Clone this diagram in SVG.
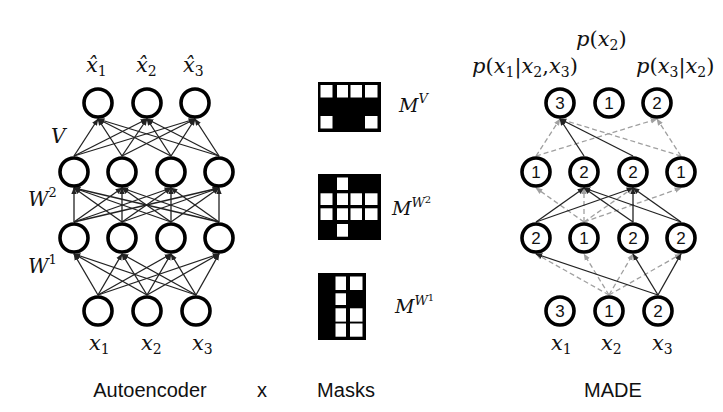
<svg xmlns="http://www.w3.org/2000/svg" width="723" height="412" viewBox="0 0 723 412">
<style>
.bg{fill:#ffffff}
.node circle{fill:#ffffff;stroke:#000000;stroke-width:3.6}
.num{font-family:"Liberation Sans",Arial,sans-serif;font-size:17px;fill:#111;text-anchor:middle}
.m{font-family:"DejaVu Serif","Liberation Serif",serif;font-size:19px;fill:#111}
.p{font-size:21px}
.i{font-style:italic}
.sub{font-size:13px}
.p .sub{font-size:14px}
.cap{font-family:"Liberation Sans",Arial,sans-serif;font-size:20px;fill:#111;text-anchor:middle}
.s{stroke:#222;stroke-width:1.3;fill:none;marker-end:url(#ah)}
.d{stroke:#a0a0a0;stroke-width:1.3;fill:none;stroke-dasharray:5 3;marker-end:url(#ahg)}
.blk{fill:#000}
.wht{fill:#fff}
</style>
<defs>
<marker id="ah" viewBox="0 0 10 10" refX="9" refY="5" markerWidth="7" markerHeight="7" markerUnits="userSpaceOnUse" orient="auto"><path d="M0,1 L10,5 L0,9 z" fill="#222"/></marker>
<marker id="ahg" viewBox="0 0 10 10" refX="9" refY="5" markerWidth="7" markerHeight="7" markerUnits="userSpaceOnUse" orient="auto"><path d="M0,1 L10,5 L0,9 z" fill="#a0a0a0"/></marker>
</defs>
<rect class="bg" x="0" y="0" width="723" height="412"/>

<!-- Autoencoder connectors -->
<g id="ae-connectors">
<path class="s" d="M98,295 L74,254"/><path class="s" d="M98,295 L122,254"/><path class="s" d="M98,295 L171,254"/><path class="s" d="M98,295 L219,254"/>
<path class="s" d="M147,295 L74,254"/><path class="s" d="M147,295 L122,254"/><path class="s" d="M147,295 L171,254"/><path class="s" d="M147,295 L219,254"/>
<path class="s" d="M196,295 L74,254"/><path class="s" d="M196,295 L122,254"/><path class="s" d="M196,295 L171,254"/><path class="s" d="M196,295 L219,254"/>
<path class="s" d="M74,222 L74,188"/><path class="s" d="M74,222 L122,188"/><path class="s" d="M74,222 L171,188"/><path class="s" d="M74,222 L219,188"/>
<path class="s" d="M122,222 L74,188"/><path class="s" d="M122,222 L122,188"/><path class="s" d="M122,222 L171,188"/><path class="s" d="M122,222 L219,188"/>
<path class="s" d="M171,222 L74,188"/><path class="s" d="M171,222 L122,188"/><path class="s" d="M171,222 L171,188"/><path class="s" d="M171,222 L219,188"/>
<path class="s" d="M219,222 L74,188"/><path class="s" d="M219,222 L122,188"/><path class="s" d="M219,222 L171,188"/><path class="s" d="M219,222 L219,188"/>
<path class="s" d="M74,156 L98,119"/><path class="s" d="M74,156 L147,119"/><path class="s" d="M74,156 L195,119"/>
<path class="s" d="M122,156 L98,119"/><path class="s" d="M122,156 L147,119"/><path class="s" d="M122,156 L195,119"/>
<path class="s" d="M171,156 L98,119"/><path class="s" d="M171,156 L147,119"/><path class="s" d="M171,156 L195,119"/>
<path class="s" d="M219,156 L98,119"/><path class="s" d="M219,156 L147,119"/><path class="s" d="M219,156 L195,119"/>
</g>

<!-- MADE connectors -->
<g id="made-connectors">
<path class="d" d="M609,295 L536,254"/><path class="d" d="M609,295 L584,254"/><path class="d" d="M609,295 L633,254"/><path class="d" d="M609,295 L681,254"/>
<path class="s" d="M658,295 L536,254"/><path class="s" d="M658,295 L633,254"/><path class="s" d="M658,295 L681,254"/>
<path class="d" d="M584,222 L536,188"/><path class="d" d="M584,222 L584,188"/><path class="d" d="M584,222 L633,188"/><path class="d" d="M584,222 L681,188"/>
<path class="s" d="M536,222 L584,188"/><path class="s" d="M536,222 L633,188"/>
<path class="s" d="M633,222 L584,188"/><path class="s" d="M633,222 L633,188"/>
<path class="s" d="M681,222 L584,188"/><path class="s" d="M681,222 L633,188"/>
<path class="d" d="M536,156 L560,119"/><path class="d" d="M536,156 L657,119"/>
<path class="d" d="M681,156 L560,119"/><path class="d" d="M681,156 L657,119"/>
<path class="s" d="M584,156 L560,119"/><path class="s" d="M633,156 L560,119"/>
</g>

<!-- Autoencoder nodes -->
<g id="ae-o1" class="node"><circle cx="98" cy="103" r="14"/></g>
<g id="ae-o2" class="node"><circle cx="147" cy="103" r="14"/></g>
<g id="ae-o3" class="node"><circle cx="195" cy="103" r="14"/></g>
<g id="ae-h2-1" class="node"><circle cx="74" cy="172" r="14"/></g>
<g id="ae-h2-2" class="node"><circle cx="122" cy="172" r="14"/></g>
<g id="ae-h2-3" class="node"><circle cx="171" cy="172" r="14"/></g>
<g id="ae-h2-4" class="node"><circle cx="219" cy="172" r="14"/></g>
<g id="ae-h1-1" class="node"><circle cx="74" cy="238" r="14"/></g>
<g id="ae-h1-2" class="node"><circle cx="122" cy="238" r="14"/></g>
<g id="ae-h1-3" class="node"><circle cx="171" cy="238" r="14"/></g>
<g id="ae-h1-4" class="node"><circle cx="219" cy="238" r="14"/></g>
<g id="ae-i1" class="node"><circle cx="98" cy="311" r="14"/></g>
<g id="ae-i2" class="node"><circle cx="147" cy="311" r="14"/></g>
<g id="ae-i3" class="node"><circle cx="196" cy="311" r="14"/></g>

<!-- MADE nodes -->
<g id="made-o1" class="node"><circle cx="560" cy="103" r="14"/><text class="num" x="560" y="109">3</text></g>
<g id="made-o2" class="node"><circle cx="609" cy="103" r="14"/><text class="num" x="609" y="109">1</text></g>
<g id="made-o3" class="node"><circle cx="657" cy="103" r="14"/><text class="num" x="657" y="109">2</text></g>
<g id="made-h2-1" class="node"><circle cx="536" cy="172" r="14"/><text class="num" x="536" y="178">1</text></g>
<g id="made-h2-2" class="node"><circle cx="584" cy="172" r="14"/><text class="num" x="584" y="178">2</text></g>
<g id="made-h2-3" class="node"><circle cx="633" cy="172" r="14"/><text class="num" x="633" y="178">2</text></g>
<g id="made-h2-4" class="node"><circle cx="681" cy="172" r="14"/><text class="num" x="681" y="178">1</text></g>
<g id="made-h1-1" class="node"><circle cx="536" cy="238" r="14"/><text class="num" x="536" y="244">2</text></g>
<g id="made-h1-2" class="node"><circle cx="584" cy="238" r="14"/><text class="num" x="584" y="244">1</text></g>
<g id="made-h1-3" class="node"><circle cx="633" cy="238" r="14"/><text class="num" x="633" y="244">2</text></g>
<g id="made-h1-4" class="node"><circle cx="681" cy="238" r="14"/><text class="num" x="681" y="244">2</text></g>
<g id="made-i1" class="node"><circle cx="560" cy="311" r="14"/><text class="num" x="560" y="317">3</text></g>
<g id="made-i2" class="node"><circle cx="609" cy="311" r="14"/><text class="num" x="609" y="317">1</text></g>
<g id="made-i3" class="node"><circle cx="658" cy="311" r="14"/><text class="num" x="658" y="317">2</text></g>

<!-- Masks -->
<g id="mask-v">
<rect class="blk" x="318" y="82" width="63" height="50"/>
<rect class="wht" x="320.5" y="85" width="12" height="12.5"/><rect class="wht" x="337" y="85" width="11" height="12.5"/><rect class="wht" x="350.5" y="85" width="11.5" height="12.5"/><rect class="wht" x="365" y="85" width="12.5" height="12.5"/>
<rect class="wht" x="320.5" y="116" width="12" height="12.5"/><rect class="wht" x="365" y="116" width="12.5" height="12.5"/>
</g>
<g id="mask-w2">
<rect class="blk" x="318" y="174" width="63" height="66"/>
<rect class="wht" x="337" y="177.5" width="11" height="12.5"/>
<rect class="wht" x="320.5" y="193.3" width="12" height="11.7"/><rect class="wht" x="337" y="193.3" width="11" height="11.7"/><rect class="wht" x="350.5" y="193.3" width="11.5" height="11.7"/><rect class="wht" x="365" y="193.3" width="12.5" height="11.7"/>
<rect class="wht" x="320.5" y="208.3" width="12" height="11.7"/><rect class="wht" x="337" y="208.3" width="11" height="11.7"/><rect class="wht" x="350.5" y="208.3" width="11.5" height="11.7"/><rect class="wht" x="365" y="208.3" width="12.5" height="11.7"/>
<rect class="wht" x="337" y="224" width="11" height="12.7"/>
</g>
<g id="mask-w1">
<rect class="blk" x="318" y="273" width="48" height="67"/>
<rect class="wht" x="335.5" y="276.5" width="10.5" height="13.5"/><rect class="wht" x="350" y="276.5" width="12.5" height="13.5"/>
<rect class="wht" x="335.5" y="293.3" width="10.5" height="11.7"/>
<rect class="wht" x="335.5" y="308.3" width="10.5" height="13.3"/><rect class="wht" x="350" y="308.3" width="12.5" height="13.3"/>
<rect class="wht" x="335.5" y="323.5" width="10.5" height="13.2"/><rect class="wht" x="350" y="323.5" width="12.5" height="13.2"/>
</g>

<!-- Labels -->
<g id="labels">
<text class="m p" x="86" y="72"><tspan class="i">x&#x302;</tspan><tspan class="sub" dy="4">1</tspan></text>
<text class="m p" x="136" y="72"><tspan class="i">x&#x302;</tspan><tspan class="sub" dy="4">2</tspan></text>
<text class="m p" x="183" y="72"><tspan class="i">x&#x302;</tspan><tspan class="sub" dy="4">3</tspan></text>
<text class="m i" x="51" y="143" style="font-size:20px">V</text>
<text class="m" x="28" y="206" style="font-size:20px"><tspan class="i">W</tspan><tspan class="sub" dy="-9">2</tspan></text>
<text class="m" x="28" y="273" style="font-size:20px"><tspan class="i">W</tspan><tspan class="sub" dy="-9">1</tspan></text>
<text class="m p" x="89" y="350"><tspan class="i">x</tspan><tspan class="sub" dy="4">1</tspan></text>
<text class="m p" x="141" y="350"><tspan class="i">x</tspan><tspan class="sub" dy="4">2</tspan></text>
<text class="m p" x="192" y="350"><tspan class="i">x</tspan><tspan class="sub" dy="4">3</tspan></text>
<text class="m p" x="551" y="350"><tspan class="i">x</tspan><tspan class="sub" dy="4">1</tspan></text>
<text class="m p" x="601" y="350"><tspan class="i">x</tspan><tspan class="sub" dy="4">2</tspan></text>
<text class="m p" x="652" y="350"><tspan class="i">x</tspan><tspan class="sub" dy="4">3</tspan></text>
<text class="m" x="399" y="112"><tspan class="i">M</tspan><tspan class="i sub" dy="-9">V</tspan></text>
<text class="m" x="392" y="215"><tspan class="i">M</tspan><tspan class="i sub" dy="-8">W</tspan><tspan style="font-size:10px" dy="-4">2</tspan></text>
<text class="m" x="395" y="313"><tspan class="i">M</tspan><tspan class="i sub" dy="-8">W</tspan><tspan style="font-size:10px" dy="-4">1</tspan></text>
<text class="m p" x="576" y="46"><tspan class="i">p</tspan>(<tspan class="i">x</tspan><tspan class="sub" dy="4">2</tspan><tspan dy="-4">)</tspan></text>
<text class="m p" x="472" y="73"><tspan class="i">p</tspan>(<tspan class="i">x</tspan><tspan class="sub" dy="4">1</tspan><tspan dy="-4">|</tspan><tspan class="i">x</tspan><tspan class="sub" dy="4">2</tspan><tspan dy="-4">,</tspan><tspan class="i">x</tspan><tspan class="sub" dy="4">3</tspan><tspan dy="-4">)</tspan></text>
<text class="m p" x="636" y="73"><tspan class="i">p</tspan>(<tspan class="i">x</tspan><tspan class="sub" dy="4">3</tspan><tspan dy="-4">|</tspan><tspan class="i">x</tspan><tspan class="sub" dy="4">2</tspan><tspan dy="-4">)</tspan></text>
<text class="cap" x="150" y="397">Autoencoder</text>
<text class="cap" x="262" y="397">x</text>
<text class="cap" x="346" y="397">Masks</text>
<text class="cap" x="613" y="397">MADE</text>
</g>
</svg>
